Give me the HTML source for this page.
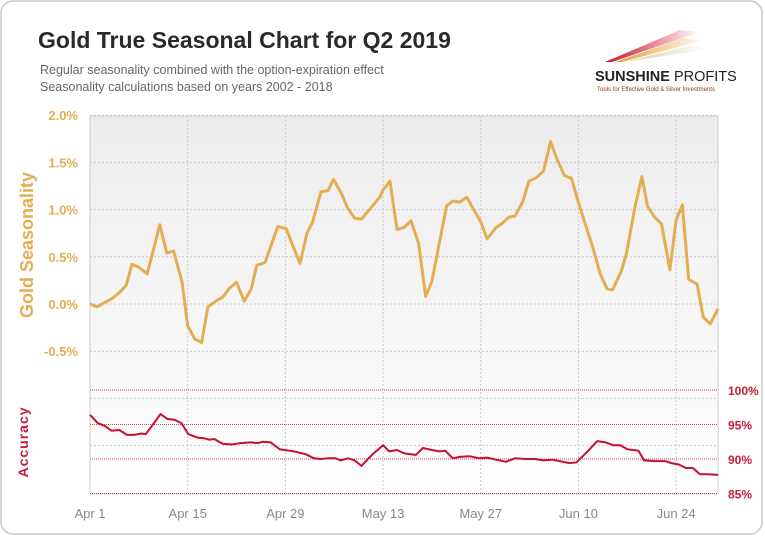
<!DOCTYPE html>
<html><head><meta charset="utf-8">
<style>
html,body{margin:0;padding:0;background:#fff;}
body{width:765px;height:537px;overflow:hidden;font-family:"Liberation Sans",sans-serif;}
</style></head>
<body>
<svg id="chart" width="765" height="537" xmlns="http://www.w3.org/2000/svg">
<defs>
<linearGradient id="bg" x1="0" y1="0" x2="0" y2="1">
<stop offset="0" stop-color="#ececec"/><stop offset="1" stop-color="#ffffff"/>
</linearGradient>
<linearGradient id="r1" x1="0" x2="1"><stop offset="0" stop-color="#c8102e"/><stop offset="1" stop-color="#c8102e" stop-opacity="0"/></linearGradient>
<linearGradient id="r2" x1="0" x2="1"><stop offset="0" stop-color="#e0a030"/><stop offset="1" stop-color="#e0a030" stop-opacity="0"/></linearGradient>
<linearGradient id="r3" x1="0" x2="1"><stop offset="0" stop-color="#d8d0b0"/><stop offset="1" stop-color="#d8d0b0" stop-opacity="0"/></linearGradient>
</defs>
<rect x="1" y="1" width="761" height="533" rx="12" fill="#fff" stroke="#c8c8c8" stroke-width="1.5"/>
<text x="38" y="48" font-size="23" font-weight="bold" fill="#2a2a2a">Gold True Seasonal Chart for Q2 2019</text>
<text x="40" y="74" font-size="12.5" fill="#666">Regular seasonality combined with the option-expiration effect</text>
<text x="40" y="91" font-size="12.5" fill="#666">Seasonality calculations based on years 2002 - 2018</text>
<g>
<polygon points="605,62 680,30 700,32 612,62" fill="url(#r1)"/>
<polygon points="615,62 683,38 705,40 622,62" fill="url(#r2)"/>
<polygon points="625,62 688,46 710,48 690,52" fill="url(#r3)"/>
<text x="595" y="81" font-size="14.5" font-weight="bold" fill="#222">SUNSHINE <tspan font-weight="normal">PROFITS</tspan></text>
<text x="597" y="91" font-size="6" fill="#8a3a20">Tools for Effective Gold &amp; Silver Investments</text>
</g>
<rect x="90" y="116" width="628" height="378" fill="url(#bg)" stroke="#cfcfcf"/>
<g id="grid"></g>
<g id="series"></g>
<text transform="translate(33,245) rotate(-90)" text-anchor="middle" font-size="18" font-weight="bold" fill="#e4ad52">Gold Seasonality</text>
<text transform="translate(28,442) rotate(-90)" text-anchor="middle" font-size="14" font-weight="bold" fill="#c41e3a" letter-spacing="1">Accuracy</text>
</svg>
<script>
const xTickLabels=["Apr 1","Apr 15","Apr 29","May 13","May 27","Jun 10","Jun 24"];
const xTickDays=[0,14,28,42,56,70,84];
const goldTicks=[2.0,1.5,1.0,0.5,0.0,-0.5];
const goldTickLabels=["2.0%","1.5%","1.0%","0.5%","0.0%","-0.5%"];
const accTicks=[100,95,90,85];
const accTickLabels=["100%","95%","90%","85%"];
const goldDays=[0,1,3.2,4.2,5.2,6,7,8.2,10,11,12,13.2,14,15,16,16.9,18.2,19,20,21,22.1,23.1,23.9,25.1,26.9,28.1,29.1,30.1,31.1,31.9,33.1,34.1,34.9,36.1,36.9,37.9,38.9,40.5,41.5,42,43,44,45,46,47.1,48.1,49,51.1,52,53,54,55,56,56.9,58.2,59,60,60.9,62,62.9,64,65,66,66.9,68,69,69.9,71.1,72.1,73.1,74.1,74.9,76.1,76.9,78.1,79.1,79.9,80.9,81.9,83.1,84,84.9,85.8,87,87.9,88.9,90];
const goldValues=[0.0,-0.03,0.06,0.12,0.2,0.42,0.39,0.32,0.84,0.54,0.56,0.23,-0.23,-0.37,-0.41,-0.03,0.04,0.07,0.17,0.23,0.03,0.16,0.41,0.44,0.82,0.8,0.61,0.43,0.75,0.87,1.19,1.2,1.32,1.16,1.02,0.91,0.9,1.04,1.13,1.21,1.3,0.79,0.81,0.88,0.64,0.08,0.24,1.04,1.09,1.08,1.13,1.0,0.87,0.69,0.81,0.85,0.92,0.93,1.08,1.3,1.34,1.41,1.72,1.54,1.36,1.33,1.1,0.82,0.59,0.32,0.16,0.15,0.34,0.54,1.03,1.35,1.04,0.92,0.85,0.36,0.89,1.05,0.26,0.21,-0.14,-0.21,-0.05];
const accValues=[96.4,95.2,94.8,94.1,94.2,93.5,93.5,93.7,93.6,96.5,95.8,95.7,95.2,93.6,93.1,93.0,92.8,92.9,92.2,92.1,92.3,92.4,92.3,92.5,92.4,91.4,91.2,91.0,90.7,90.1,90.0,90.1,90.1,89.8,90.1,89.8,89.0,90.6,92.0,91.1,91.3,90.8,90.6,91.6,91.3,91.1,91.2,90.1,90.3,90.4,90.1,90.2,89.9,89.6,90.1,90.0,90.0,89.8,89.9,89.7,89.4,89.5,91.1,92.6,92.4,92.0,92.0,91.4,91.2,89.8,89.7,89.7,89.4,89.2,88.7,88.7,87.8,87.8,87.7];
const accDays=[0,1.1,2.1,3.1,4.2,5.3,6.3,7.4,8,10.1,11.1,12.1,13.1,14.1,15.4,16.4,17.1,17.8,19,20.3,21.6,23,24.1,24.7,25.9,27.2,28.6,29.7,30.9,32.1,33.1,34.1,35.2,35.9,37,37.9,38.9,40.4,42,42.9,44,45.1,46.7,47.7,49,50.1,50.9,52,53,54.4,55.8,56.9,58.2,59.6,60.9,62.4,63.8,64.9,66.2,67.3,68.7,69.7,71.3,72.7,73.9,75,76,77,78.6,79.4,80.9,82.4,83.3,84.4,85.4,86.4,87.4,88.6,90];
const ns="http://www.w3.org/2000/svg";
const X0=90,X1=718,D1=90;
const xS=d=>X0+d*(X1-X0)/D1;
const yG=v=>304-v*94.4;
const yA=v=>390+(100-v)*6.9;
const grid=document.getElementById('grid'),ser=document.getElementById('series');
function mk(tag,attrs,parent){const e=document.createElementNS(ns,tag);for(const k in attrs)e.setAttribute(k,attrs[k]);parent.appendChild(e);return e;}
[2.0,1.5,1.0,0.5,0.0,-0.5,-1.0,-1.5].forEach(v=>{
 const l=mk('line',{x1:X0,x2:X1,y1:yG(v),y2:yG(v),stroke:'#c8c8c8','stroke-dasharray':'2,2'},grid);
 
 
});
goldTicks.forEach((v,i)=>{
 const t=mk('text',{x:78,y:yG(v)+5,'text-anchor':'end','font-size':13,'font-weight':'bold',fill:'#e4ad52'},grid);
 t.textContent=goldTickLabels[i];
 
 
});
xTickDays.forEach((d,i)=>{
 const l=mk('line',{x1:xS(d),x2:xS(d),y1:116,y2:494,stroke:'#c8c8c8','stroke-dasharray':'2,2'},grid);
 
 
 const t=mk('text',{x:xS(d),y:518,'text-anchor':'middle','font-size':13,fill:'#888'},grid);
 t.textContent=xTickLabels[i];
 
 
});
accTicks.forEach((v,i)=>{
 const l=mk('line',{x1:X0,x2:X1,y1:yA(v),y2:yA(v),stroke:'#d9414f','stroke-width':1,'stroke-dasharray':'1,1'},grid);
 
 
 const t=mk('text',{x:728,y:yA(v)+5,'font-size':12,'font-weight':'bold',fill:'#c41e3a'},grid);
 t.textContent=accTickLabels[i];
 
 
});
const gn=Math.min(goldDays.length,goldValues.length);
const gp=goldDays.slice(0,gn).map((d,i)=>xS(d).toFixed(1)+','+yG(goldValues[i]).toFixed(1)).join(' ');
const g=mk('polyline',{points:gp,fill:'none',stroke:'#e4ad52','stroke-width':3,'stroke-linejoin':'round'},ser);


const n=Math.min(accDays.length,accValues.length);
const ap=accDays.slice(0,n).map((d,i)=>xS(d).toFixed(1)+','+yA(accValues[i]).toFixed(1)).join(' ');
const a=mk('polyline',{points:ap,fill:'none',stroke:'#c8102e','stroke-width':2,'stroke-linejoin':'round'},ser);


</script>
</body></html>
